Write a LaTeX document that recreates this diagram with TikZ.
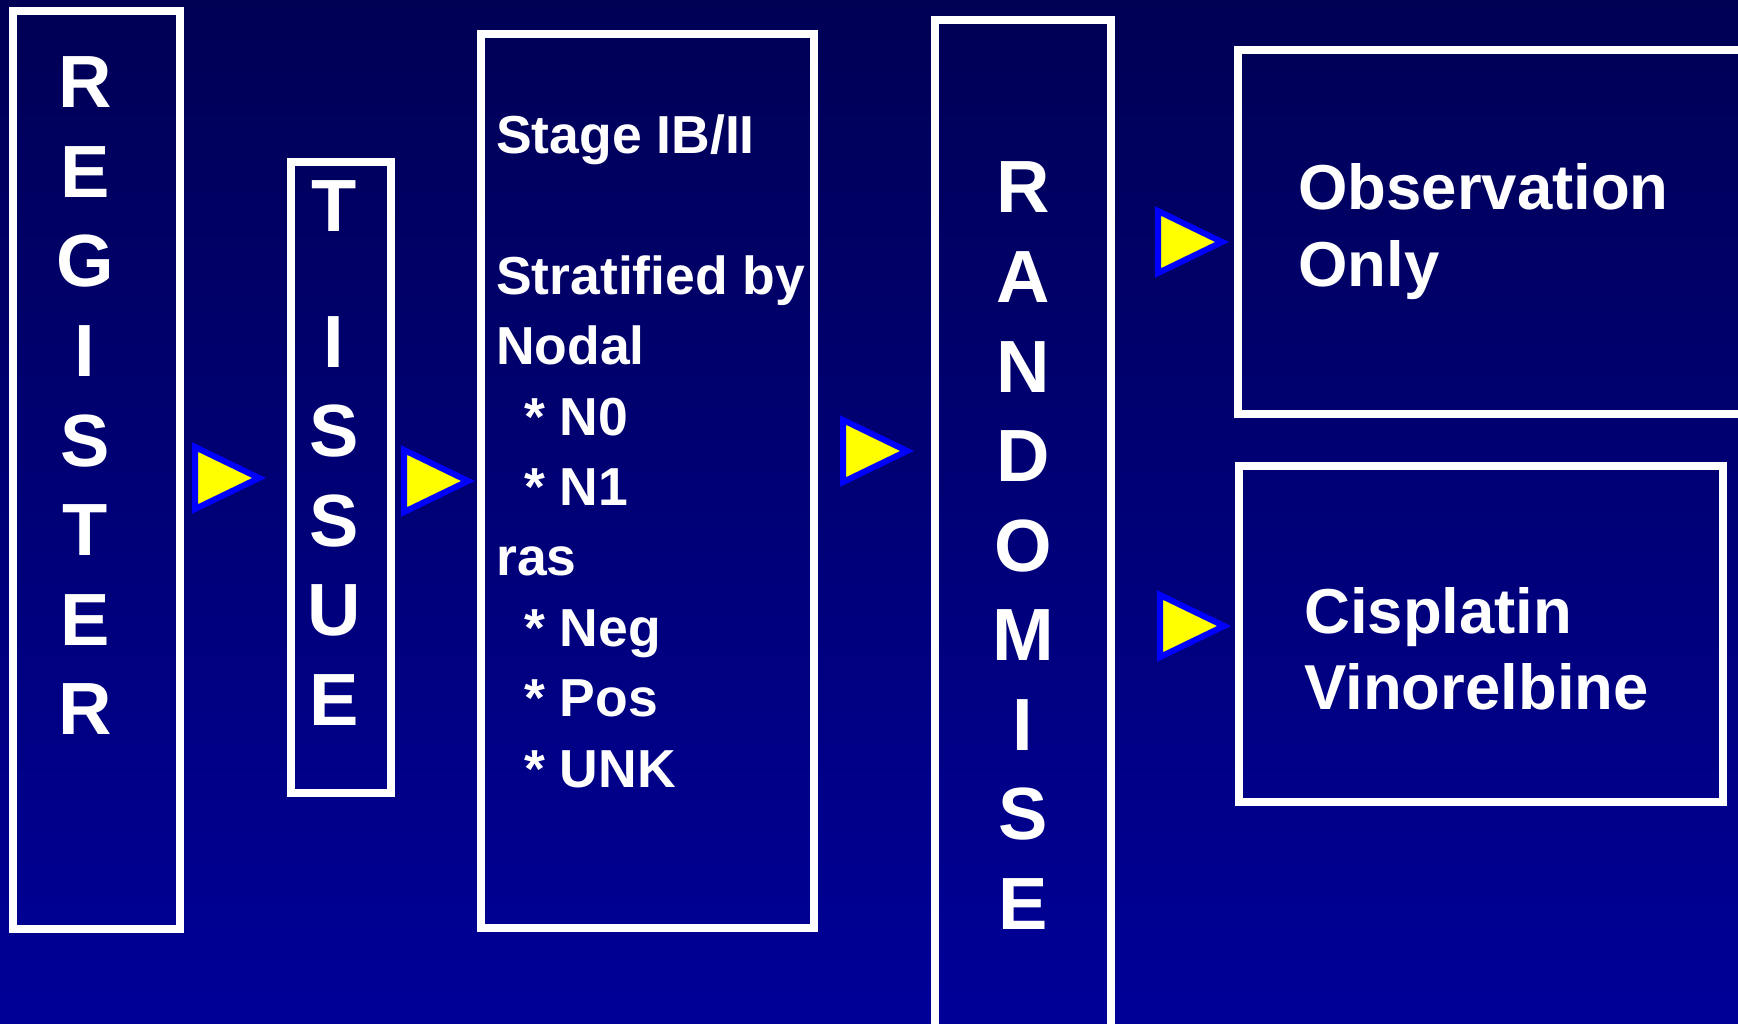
\documentclass[tikz,border=0pt]{standalone}
\usepackage{fontspec}
\setmainfont{Liberation Sans}
\definecolor{bgtop}{RGB}{0,0,85}
\definecolor{bgbot}{RGB}{0,0,152}
\definecolor{triblue}{RGB}{0,0,255}
\definecolor{triyellow}{RGB}{255,255,0}
\begin{document}
\begin{tikzpicture}[x=1pt,y=-1pt,
  box/.style={draw=white,line width=8pt,rectangle,inner sep=0pt,outer sep=0pt},
  big/.style={text=white,inner sep=0pt,anchor=base,font=\fontsize{74}{74}\selectfont\bfseries},
  mid/.style={text=white,inner sep=0pt,anchor=base west,font=\fontsize{53.5}{53.5}\selectfont\bfseries},
  arm/.style={text=white,inner sep=0pt,anchor=base west,font=\fontsize{63.5}{63.5}\selectfont\bfseries},
  tri/.pic={\draw[draw=triblue,fill=triyellow,line width=6pt,line join=miter] (0,-31) -- (64,0) -- (0,31) -- cycle;}
]
\shade[top color=bgtop,bottom color=bgbot] (0,0) rectangle (1738,1024);
\useasboundingbox (0,0) rectangle (1738,1024);

% boxes
\node[box,minimum width=167pt,minimum height=918pt] (register) at (96.5,470) {};
\node[box,minimum width=100pt,minimum height=631pt] (tissue) at (341,477.5) {};
\node[box,minimum width=333pt,minimum height=894pt] (stage) at (647.5,481) {};
\node[box,minimum width=176pt,minimum height=1020pt] (randomise) at (1023,530) {};
\node[box,minimum width=507pt,minimum height=364pt] (obs) at (1491.5,232) {};
\node[box,minimum width=484pt,minimum height=336pt] (cis) at (1481,634) {};

% REGISTER
\foreach \l [count=\i from 0] in {R,E,G,I,S,T,E,R}
  \node[big] (reg\i) at (85,108+89.5*\i) {\l};

% TISSUE
\node[big] (tisT) at (334,232) {T};
\foreach \l [count=\i from 0] in {I,S,S,U,E}
  \node[big] (tis\i) at (334,367+89.5*\i) {\l};

% RANDOMISE
\foreach \l [count=\i from 0] in {R,A,N,D,O,M,I,S,E}
  \node[big] (ran\i) at (1023,213+89.5*\i) {\l};

% Stage text
\node[mid] (s1) at (496,154) {Stage IB/II};
\node[mid] (s2) at (496,295) {Stratified by};
\node[mid] (s3) at (496,365) {Nodal};
\node[mid] (s4) at (524,435) {* N0};
\node[mid] (s5) at (524,505) {* N1};
\node[mid] (s6) at (496,575) {ras};
\node[mid] (s7) at (524,646) {* Neg};
\node[mid] (s8) at (524,716) {* Pos};
\node[mid] (s9) at (524,787) {* UNK};

% arms
\node[arm] (o1) at (1298,210) {Observation};
\node[arm] (o2) at (1298,287) {Only};
\node[arm] (c1) at (1304,633) {Cisplatin};
\node[arm] (c2) at (1304,709) {Vinorelbine};

% triangles
\pic (t1) at (195,478) {tri};
\pic (t2) at (404,481) {tri};
\pic (t3) at (843,451) {tri};
\pic (t4) at (1158,242) {tri};
\pic (t5) at (1160,626) {tri};
\end{tikzpicture}
\end{document}
